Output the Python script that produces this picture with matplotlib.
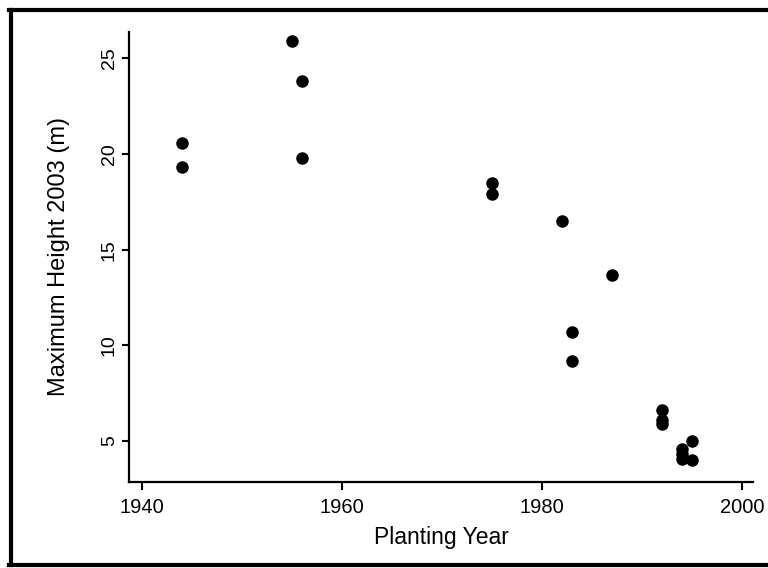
import matplotlib
matplotlib.use("Agg")
import matplotlib.pyplot as plt
from matplotlib.lines import Line2D

plt.rcParams['font.family'] = ['Liberation Sans', 'DejaVu Sans']

# Planting year and maximum tree height measured in 2003
planting_year = [1944, 1944, 1955, 1956, 1956, 1975, 1975, 1982, 1983, 1983,
                 1987, 1992, 1992, 1992, 1994, 1994, 1994, 1995, 1995]
max_height_m = [20.6, 19.3, 25.9, 23.8, 19.8, 18.5, 17.9, 16.5, 10.7, 9.2,
                13.7, 6.6, 6.1, 5.9, 4.6, 4.3, 4.05, 5.0, 4.0]

x_ticks = [1940, 1960, 1980, 2000]
y_ticks = [5, 10, 15, 20, 25]

W, H = 768, 568
fig = plt.figure(figsize=(W / 100, H / 100), dpi=100)
fig.patch.set_facecolor('white')

ax_left, ax_right, ax_top, ax_bottom = 129, 753, 31.7, 481.7
ax = fig.add_axes([ax_left / W, 1 - ax_bottom / H,
                   (ax_right - ax_left) / W, (ax_bottom - ax_top) / H])

ax.plot(planting_year, max_height_m, linestyle='none', marker='o',
        markersize=8, color='black')

ax.set_xlim(1938.7, 2001.1)
ax.set_ylim(2.87, 26.4)
ax.set_xticks(x_ticks)
ax.set_yticks(y_ticks)

for side in ('top', 'right'):
    ax.spines[side].set_visible(False)
for side in ('left', 'bottom'):
    ax.spines[side].set_linewidth(1.6)

ax.tick_params(axis='x', direction='out', length=6, width=1.5, pad=6,
               labelsize=14.5, color='black')
ax.tick_params(axis='y', direction='out', length=5, width=1.5, pad=3,
               labelsize=14, color='black')
for lbl in ax.get_yticklabels():
    lbl.set_rotation(90)
    lbl.set_va('center')

ax.set_xlabel('Planting Year', fontsize=16.5, labelpad=6)
ax.set_ylabel('Maximum Height 2003 (m)', fontsize=17, labelpad=22)

# Heavy frame around the whole figure (right edge runs off the canvas)
lw = 3.0
fx = lambda px: px / W
fy = lambda py: 1 - py / H
fig.add_artist(Line2D([fx(10.5), fx(10.5)], [fy(9.5), fy(565)],
                      transform=fig.transFigure, color='black', lw=lw))
fig.add_artist(Line2D([fx(9), fx(770)], [fy(9.5), fy(9.5)],
                      transform=fig.transFigure, color='black', lw=lw))
fig.add_artist(Line2D([fx(9), fx(770)], [fy(565), fy(565)],
                      transform=fig.transFigure, color='black', lw=lw))

fig.savefig('out.png', dpi=100)
